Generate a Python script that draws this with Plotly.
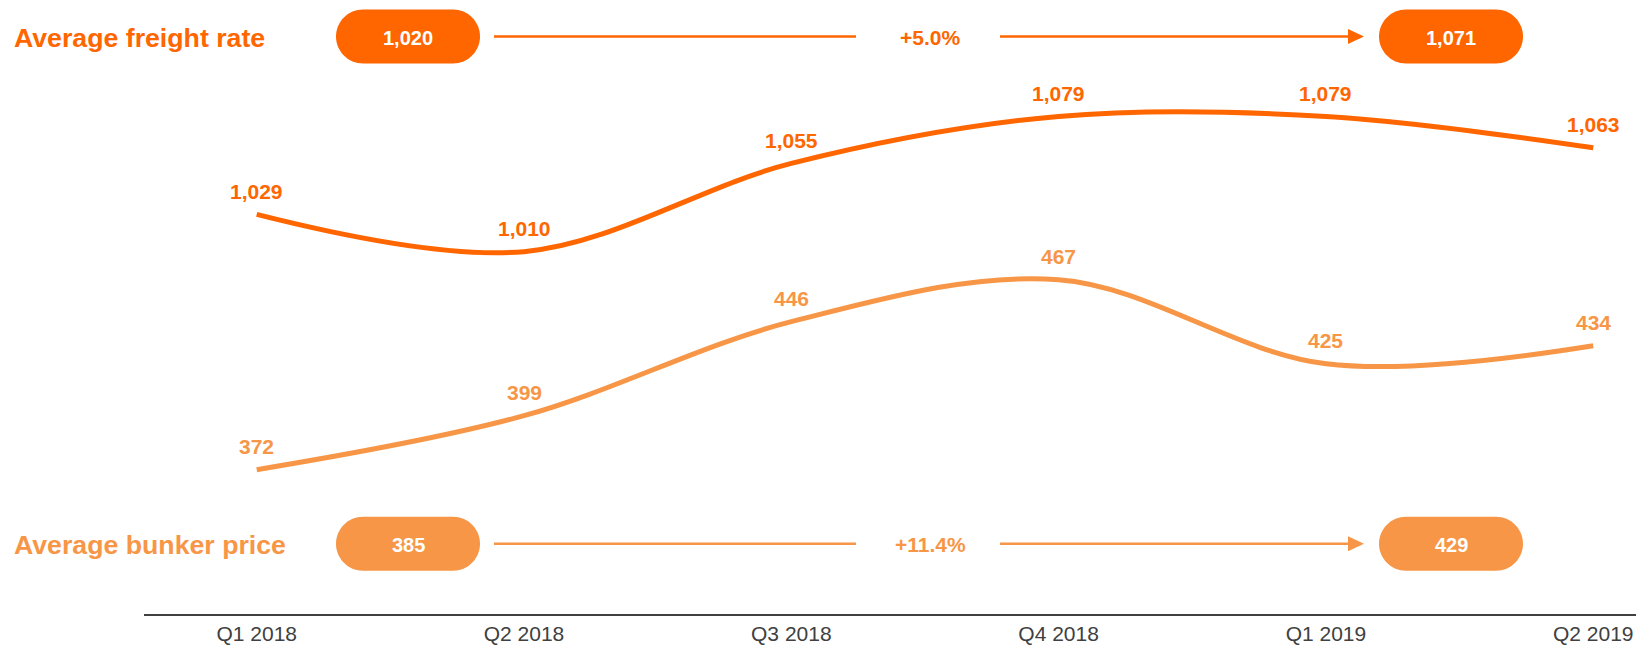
import plotly.graph_objects as go

# ---------------- data ----------------
quarters = ["Q1 2018", "Q2 2018", "Q3 2018", "Q4 2018", "Q1 2019", "Q2 2019"]
freight_rate = [1029, 1010, 1055, 1079, 1079, 1063]
bunker_price = [372, 399, 446, 467, 425, 434]

freight_title = "Average freight rate"
bunker_title = "Average bunker price"
freight_avg = ["1,020", "1,071"]
bunker_avg = ["385", "429"]
freight_change = "+5.0%"
bunker_change = "+11.4%"

# ---------------- style ----------------
C_FREIGHT = "#FF6600"
C_BUNKER = "#F79646"
C_AXIS = "#404040"
FONT = "Liberation Sans, Arial, sans-serif"

W, H = 1636, 645
ML, MB = 144, 31
PW, PH = W - ML, H - MB


def px(x):
    return (x - ML) / PW


def py(y):
    return (PH - y) / PH


def pill_path(x0, y0, x1, y1, rx):
    ry = (y1 - y0) / 2
    k = 0.5523
    pts = [
        ("M", [(x0 + rx, y0)]),
        ("L", [(x1 - rx, y0)]),
        ("C", [(x1 - rx + k * rx, y0), (x1, y0 + ry - k * ry), (x1, y0 + ry)]),
        ("C", [(x1, y1 - ry + k * ry), (x1 - rx + k * rx, y1), (x1 - rx, y1)]),
        ("L", [(x0 + rx, y1)]),
        ("C", [(x0 + rx - k * rx, y1), (x0, y1 - ry + k * ry), (x0, y1 - ry)]),
        ("C", [(x0, y0 + ry - k * ry), (x0 + rx - k * rx, y0), (x0 + rx, y0)]),
    ]
    s = ""
    for cmd, ps in pts:
        s += cmd + " " + " ".join(f"{px(a):.6f},{py(b):.6f}" for a, b in ps) + " "
    return s + "Z"


fig = go.Figure()

fig.add_trace(go.Scatter(
    x=quarters, y=freight_rate, mode="lines", yaxis="y",
    line=dict(color=C_FREIGHT, width=5, shape="spline", smoothing=1),
    hoverinfo="skip", showlegend=False,
))
fig.add_trace(go.Scatter(
    x=quarters, y=bunker_price, mode="lines", yaxis="y2",
    line=dict(color=C_BUNKER, width=5, shape="spline", smoothing=1),
    hoverinfo="skip", showlegend=False,
))

annotations = []
for q, v in zip(quarters, freight_rate):
    annotations.append(dict(x=q, y=v, xref="x", yref="y", text=f"{v:,}", showarrow=False,
                            yshift=23, font=dict(family=FONT, size=21, color=C_FREIGHT, weight="bold")))
for q, v in zip(quarters, bunker_price):
    annotations.append(dict(x=q, y=v, xref="x", yref="y2", text=f"{v:,}", showarrow=False,
                            yshift=23, font=dict(family=FONT, size=21, color=C_BUNKER, weight="bold")))

shapes = []
rows = [
    (freight_title, freight_avg, freight_change, C_FREIGHT, 36.5),
    (bunker_title, bunker_avg, bunker_change, C_BUNKER, 543.8),
]
for title, avgs, chg, col, yc in rows:
    annotations.append(dict(x=px(12), y=py(yc + 1), xref="paper", yref="paper", text=title,
                            showarrow=False, xanchor="left", yanchor="middle",
                            font=dict(family=FONT, size=26.7, color=col, weight="bold")))
    for (x0, x1), t in zip([(336, 480), (1379, 1523)], avgs):
        shapes.append(dict(type="path", xref="paper", yref="paper",
                           path=pill_path(x0, yc - 27, x1, yc + 27, 27),
                           fillcolor=col, line=dict(width=0)))
        annotations.append(dict(x=px((x0 + x1) / 2), y=py(yc + 1), xref="paper", yref="paper",
                                text=t, showarrow=False, xanchor="center", yanchor="middle",
                                font=dict(family=FONT, size=20, color="white", weight="bold")))
    shapes.append(dict(type="line", xref="paper", yref="paper", x0=px(494), x1=px(856),
                       y0=py(yc), y1=py(yc), line=dict(color=col, width=2.5)))
    shapes.append(dict(type="line", xref="paper", yref="paper", x0=px(1000), x1=px(1350),
                       y0=py(yc), y1=py(yc), line=dict(color=col, width=2.5)))
    shapes.append(dict(type="path", xref="paper", yref="paper",
                       path=f"M {px(1348):.6f},{py(yc - 7.5):.6f} L {px(1364):.6f},{py(yc):.6f} "
                            f"L {px(1348):.6f},{py(yc + 7.5):.6f} Z",
                       fillcolor=col, line=dict(width=0)))
    annotations.append(dict(x=px(930), y=py(yc + 1), xref="paper", yref="paper", text=chg,
                            showarrow=False, xanchor="center", yanchor="middle",
                            font=dict(family=FONT, size=21, color=col, weight="bold")))

fig.update_layout(
    width=W, height=H,
    margin=dict(l=ML, r=0, t=0, b=MB, pad=0, autoexpand=False),
    paper_bgcolor="white", plot_bgcolor="white",
    xaxis=dict(type="category", range=[-0.4216, 5.160], showgrid=False, zeroline=False,
               automargin=False,
               showline=True, linecolor=C_AXIS, linewidth=2, ticks="",
               tickfont=dict(family=FONT, size=21, color=C_AXIS)),
    yaxis=dict(range=[825.1, 1138.4], visible=False, automargin=False),
    yaxis2=dict(range=[299.85, 606.85], visible=False, overlaying="y", automargin=False),
    annotations=annotations,
    shapes=shapes,
)

fig.write_html("out.html", config={"displayModeBar": False},
               post_script="document.body.style.margin='0';document.body.style.overflow='hidden';")
